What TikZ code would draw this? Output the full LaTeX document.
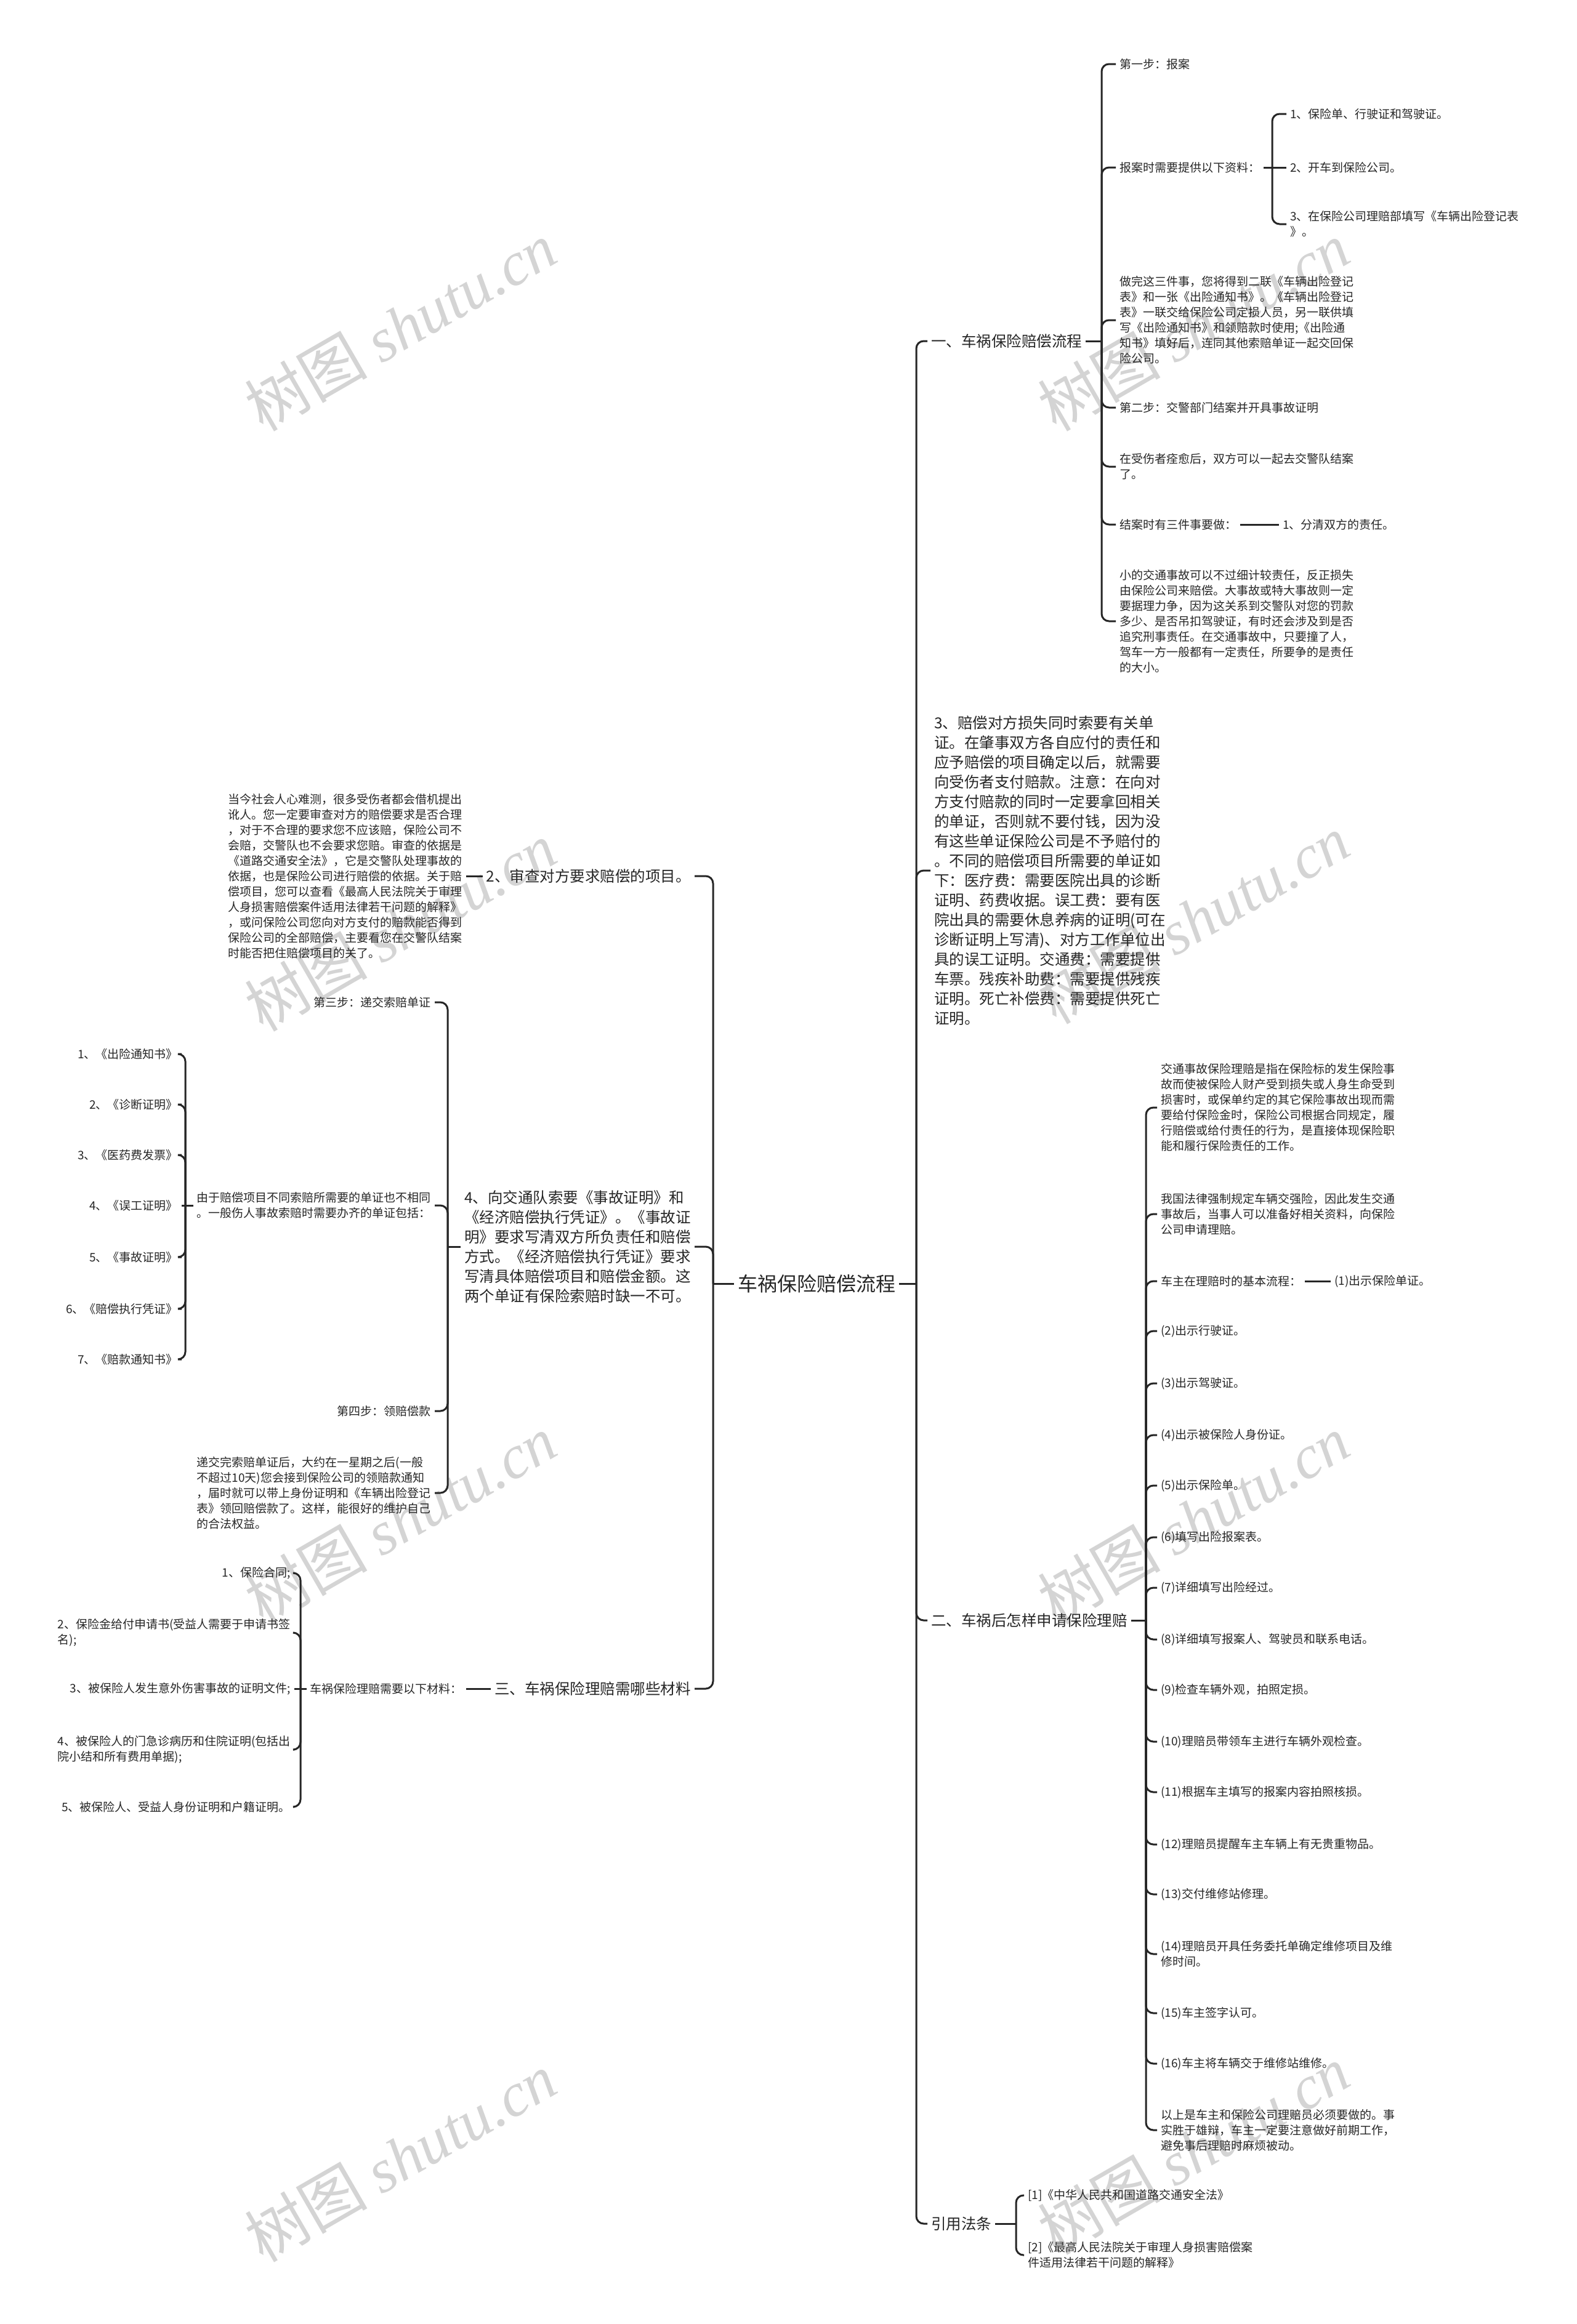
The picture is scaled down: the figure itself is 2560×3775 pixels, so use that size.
\documentclass[tikz,border=0pt]{standalone}
\usepackage{fontspec}
\setmainfont{Noto Sans CJK SC}
\newfontfamily\wmfont{Liberation Serif}
\tikzset{
  edge/.style={line width=3pt, draw=black!85, rounded corners=12pt},
  sm/.style={font=\fontsize{19}{25}\selectfont, inner sep=6pt, align=left, text=black!85},
  md/.style={font=\fontsize{24.5}{32}\selectfont, inner sep=6pt, align=left, text=black!85},
  lg/.style={font=\fontsize{32}{40}\selectfont, inner sep=6pt, text=black!85},
  rnode/.style={anchor=west},
  lnode/.style={anchor=east},
  wm/.style={rotate=30, text=black!17, font=\fontsize{100}{110}\selectfont}
}
\begin{document}
\begin{tikzpicture}[x=1pt,y=-1pt]
\useasboundingbox (0,0) rectangle (2560,3775);
\fill[white] (0,0) rectangle (2560,3775);
% watermarks
\foreach \p/\q in {650/530,1938/530,650/1505,1938/1493,650/2468,1938/2468,650/3504,1938/3492}
  \node[wm] at (\p,\q) {树图 {\wmfont\itshape shutu.cn}};

% root
\node[lg] (root) at (1326,2085) {车祸保险赔偿流程};
\coordinate (rootR) at (1488,2085);
\coordinate (rootL) at (1158,2085);

% ---------- right side ----------
\node[md,rnode] (r1) at (1506,554) {一、车祸保险赔偿流程};
\node[md,rnode] (r2) at (1511,1414) {3、赔偿对方损失同时索要有关单\\证。在肇事双方各自应付的责任和\\应予赔偿的项目确定以后，就需要\\向受伤者支付赔款。注意：在向对\\方支付赔款的同时一定要拿回相关\\的单证，否则就不要付钱，因为没\\有这些单证保险公司是不予赔付的\\。不同的赔偿项目所需要的单证如\\下：医疗费：需要医院出具的诊断\\证明、药费收据。误工费：要有医\\院出具的需要休息养病的证明(可在\\诊断证明上写清)、对方工作单位出\\具的误工证明。交通费：需要提供\\车票。残疾补助费：需要提供残疾\\证明。死亡补偿费：需要提供死亡\\证明。};
\node[md,rnode] (r3) at (1506,2632) {二、车祸后怎样申请保险理赔};
\node[md,rnode] (r4) at (1506,3612) {引用法条};

% r1 children
\coordinate (j1) at (1789,554);
\node[sm,rnode] (a1) at (1812,104) {第一步：报案};
\node[sm,rnode] (a2) at (1812,272) {报案时需要提供以下资料：};
\node[sm,rnode] (a3) at (1812,520) {做完这三件事，您将得到二联《车辆出险登记\\表》和一张《出险通知书》。《车辆出险登记\\表》一联交给保险公司定损人员，另一联供填\\写《出险通知书》和领赔款时使用;《出险通\\知书》填好后，连同其他索赔单证一起交回保\\险公司。};
\node[sm,rnode] (a4) at (1812,662) {第二步：交警部门结案并开具事故证明};
\node[sm,rnode] (a5) at (1812,758) {在受伤者痊愈后，双方可以一起去交警队结案\\了。};
\node[sm,rnode] (a6) at (1812,852) {结案时有三件事要做：};
\node[sm,rnode] (a7) at (1812,1009) {小的交通事故可以不过细计较责任，反正损失\\由保险公司来赔偿。大事故或特大事故则一定\\要据理力争，因为这关系到交警队对您的罚款\\多少、是否吊扣驾驶证，有时还会涉及到是否\\追究刑事责任。在交通事故中，只要撞了人，\\驾车一方一般都有一定责任，所要争的是责任\\的大小。};
\coordinate (j2) at (2066,272);
\node[sm,rnode] (a21) at (2089,185) {1、保险单、行驶证和驾驶证。};
\node[sm,rnode] (a22) at (2089,272) {2、开车到保险公司。};
\node[sm,rnode] (a23) at (2089,364) {3、在保险公司理赔部填写《车辆出险登记表\\》。};
\node[sm,rnode] (a61) at (2077,852) {1、分清双方的责任。};

% r3 children
\coordinate (j3) at (1861,2632);
\node[sm,rnode] (b1) at (1879,1799) {交通事故保险理赔是指在保险标的发生保险事\\故而使被保险人财产受到损失或人身生命受到\\损害时，或保单约定的其它保险事故出现而需\\要给付保险金时，保险公司根据合同规定，履\\行赔偿或给付责任的行为，是直接体现保险职\\能和履行保险责任的工作。};
\node[sm,rnode] (b2) at (1879,1972) {我国法律强制规定车辆交强险，因此发生交通\\事故后，当事人可以准备好相关资料，向保险\\公司申请理赔。};
\node[sm,rnode] (b3) at (1879,2081) {车主在理赔时的基本流程：};
\node[sm,rnode] (b31) at (2161,2081) {(1)出示保险单证。};
\node[sm,rnode] (b4) at (1879,2162) {(2)出示行驶证。};
\node[sm,rnode] (b5) at (1879,2247) {(3)出示驾驶证。};
\node[sm,rnode] (b6) at (1879,2331) {(4)出示被保险人身份证。};
\node[sm,rnode] (b7) at (1879,2413) {(5)出示保险单。};
\node[sm,rnode] (b8) at (1879,2497) {(6)填写出险报案表。};
\node[sm,rnode] (b9) at (1879,2579) {(7)详细填写出险经过。};
\node[sm,rnode] (b10) at (1879,2663) {(8)详细填写报案人、驾驶员和联系电话。};
\node[sm,rnode] (b11) at (1879,2745) {(9)检查车辆外观，拍照定损。};
\node[sm,rnode] (b12) at (1879,2829) {(10)理赔员带领车主进行车辆外观检查。};
\node[sm,rnode] (b13) at (1879,2911) {(11)根据车主填写的报案内容拍照核损。};
\node[sm,rnode] (b14) at (1879,2996) {(12)理赔员提醒车主车辆上有无贵重物品。};
\node[sm,rnode] (b15) at (1879,3077) {(13)交付维修站修理。};
\node[sm,rnode] (b16) at (1879,3174) {(14)理赔员开具任务委托单确定维修项目及维\\修时间。};
\node[sm,rnode] (b17) at (1879,3270) {(15)车主签字认可。};
\node[sm,rnode] (b18) at (1879,3352) {(16)车主将车辆交于维修站维修。};
\node[sm,rnode] (b19) at (1879,3460) {以上是车主和保险公司理赔员必须要做的。事\\实胜于雄辩，车主一定要注意做好前期工作，\\避免事后理赔时麻烦被动。};

% r4 children
\coordinate (j4) at (1650,3612);
\node[sm,rnode] (c1) at (1663,3566) {[1]《中华人民共和国道路交通安全法》};
\node[sm,rnode] (c2) at (1663,3663) {[2]《最高人民法院关于审理人身损害赔偿案\\件适用法律若干问题的解释》};

% ---------- left side ----------
\node[md,lnode] (l1) at (1128,1423) {2、审查对方要求赔偿的项目。};
\node[sm,lnode] (l11) at (757,1423) {当今社会人心难测，很多受伤者都会借机提出\\讹人。您一定要审查对方的赔偿要求是否合理\\，对于不合理的要求您不应该赔，保险公司不\\会赔，交警队也不会要求您赔。审查的依据是\\《道路交通安全法》，它是交警队处理事故的\\依据，也是保险公司进行赔偿的依据。关于赔\\偿项目，您可以查看《最高人民法院关于审理\\人身损害赔偿案件适用法律若干问题的解释》\\，或问保险公司您向对方支付的赔款能否得到\\保险公司的全部赔偿，主要看您在交警队结案\\时能否把住赔偿项目的关了。};
\node[md,lnode] (l2) at (1128,2025) {4、向交通队索要《事故证明》和\\《经济赔偿执行凭证》。《事故证\\明》要求写清双方所负责任和赔偿\\方式。《经济赔偿执行凭证》要求\\写清具体赔偿项目和赔偿金额。这\\两个单证有保险索赔时缺一不可。};
\coordinate (j5) at (727,2025);
\node[sm,lnode] (l21) at (706,1628) {第三步：递交索赔单证};
\node[sm,lnode] (l22) at (706,1958) {由于赔偿项目不同索赔所需要的单证也不相同\\。一般伤人事故索赔时需要办齐的单证包括：};
\node[sm,lnode] (l23) at (706,2292) {第四步：领赔偿款};
\node[sm,lnode] (l24) at (706,2425) {递交完索赔单证后，大约在一星期之后(一般\\不超过10天)您会接到保险公司的领赔款通知\\，届时就可以带上身份证明和《车辆出险登记\\表》领回赔偿款了。这样，能很好的维护自己\\的合法权益。};
\coordinate (j6) at (301,1958);
\node[sm,lnode] (k1) at (295,1712) {1、《出险通知书》};
\node[sm,lnode] (k2) at (295,1794) {2、《诊断证明》};
\node[sm,lnode] (k3) at (295,1876) {3、《医药费发票》};
\node[sm,lnode] (k4) at (295,1958) {4、《误工证明》};
\node[sm,lnode] (k5) at (295,2042) {5、《事故证明》};
\node[sm,lnode] (k6) at (295,2126) {6、《赔偿执行凭证》};
\node[sm,lnode] (k7) at (295,2208) {7、《赔款通知书》};
\node[md,lnode] (l3) at (1128,2743) {三、车祸保险理赔需哪些材料};
\node[sm,lnode] (l31) at (757,2743) {车祸保险理赔需要以下材料：};
\coordinate (j7) at (488,2743);
\node[sm,lnode] (m1) at (478,2555) {1、保险合同;};
\node[sm,lnode] (m2) at (478,2652) {2、保险金给付申请书(受益人需要于申请书签\\名);};
\node[sm,lnode] (m3) at (478,2743) {3、被保险人发生意外伤害事故的证明文件;};
\node[sm,lnode] (m4) at (478,2842) {4、被保险人的门急诊病历和住院证明(包括出\\院小结和所有费用单据);};
\node[sm,lnode] (m5) at (478,2935) {5、被保险人、受益人身份证明和户籍证明。};

% ---------- connectors ----------
\draw[edge] (root.east) -- (rootR);
\foreach \c in {r1,r2,r3,r4} \draw[edge] (rootR) |- (\c.west);
\draw[edge] (root.west) -- (rootL);
\foreach \c in {l1,l2,l3} \draw[edge] (rootL) |- (\c.east);

\draw[edge] (r1.east) -- (j1);
\foreach \c in {a1,a2,a3,a4,a5,a6,a7} \draw[edge] (j1) |- (\c.west);
\draw[edge] (a2.east) -- (j2);
\foreach \c in {a21,a23} \draw[edge] (j2) |- (\c.west);
\draw[edge] (j2) -- (a22.west);
\draw[edge] (a6.east) -- (a61.west);

\draw[edge] (r3.east) -- (j3);
\foreach \c in {b1,b2,b3,b4,b5,b6,b7,b8,b9,b10,b11,b12,b13,b14,b15,b16,b17,b18,b19} \draw[edge] (j3) |- (\c.west);
\draw[edge] (b3.east) -- (b31.west);

\draw[edge] (r4.east) -- (j4);
\foreach \c in {c1,c2} \draw[edge] (j4) |- (\c.west);

\draw[edge] (l1.west) -- (l11.east);
\draw[edge] (l2.west) -- (j5);
\foreach \c in {l21,l22,l23,l24} \draw[edge] (j5) |- (\c.east);
\draw[edge] (l22.west) -- (j6);
\foreach \c in {k1,k2,k3,k5,k6,k7} \draw[edge] (j6) |- (\c.east);
\draw[edge] (j6) -- (k4.east);
\draw[edge] (l3.west) -- (l31.east);
\draw[edge] (l31.west) -- (j7);
\foreach \c in {m1,m2,m4,m5} \draw[edge] (j7) |- (\c.east);
\draw[edge] (j7) -- (m3.east);
\end{tikzpicture}
\end{document}
